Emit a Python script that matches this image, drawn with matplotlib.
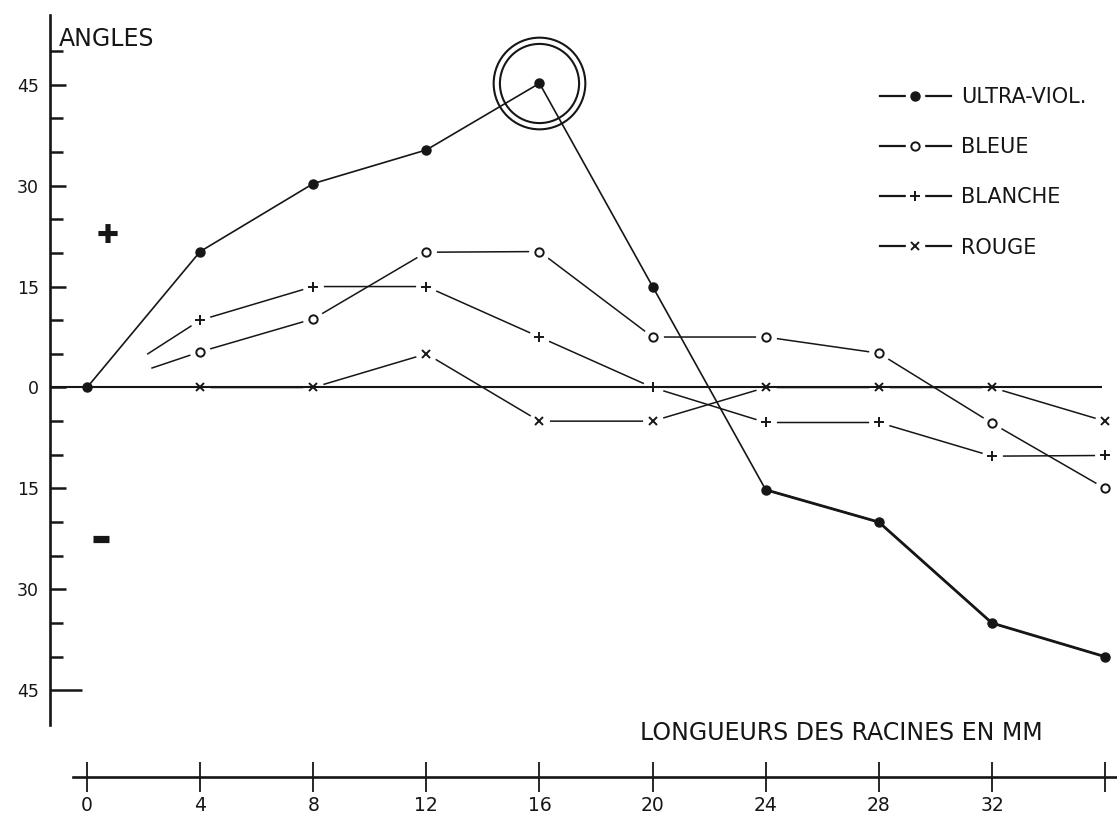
import matplotlib
matplotlib.use("Agg")
import matplotlib.pyplot as plt
from matplotlib.lines import Line2D
from matplotlib.legend_handler import HandlerTuple
import numpy as np

# ---- data ----------------------------------------------------------------
lengths = [0, 4, 8, 12, 16, 20, 24, 28, 32, 36]          # root length (mm)
tick_labels_x = ["0", "4", "8", "12", "16", "20", "24", "28", "32", ""]

ultra_viol = [0, 20.2, 30.3, 35.3, 45.2, 15, -15.2, -20, -35, -40]

bleue_x = [2.3, 4, 8, 12, 16, 20, 24, 28, 32, 36]
bleue = [2.9, 5.3, 10.2, 20.1, 20.2, 7.5, 7.5, 5.1, -5.3, -15]

blanche_x = [2.15, 4, 8, 12, 16, 20, 24, 28, 32, 36]
blanche = [5.0, 10, 15, 15, 7.5, 0, -5.2, -5.2, -10.2, -10.1]

rouge_x = [4, 8, 12, 16, 20, 24, 28, 32, 36]
rouge = [0, 0, 5, -5, -5, 0, 0, 0, -5]

y_major = [-45, -30, -15, 0, 15, 30, 45]
y_minor = [-40, -35, -25, -20, -10, -5, 5, 10, 20, 25, 35, 40, 50]

series_names = ["ULTRA-VIOL.", "BLEUE", "BLANCHE", "ROUGE"]

# ---- figure ----------------------------------------------------------------
W, H = 1117, 817
INK = "#161616"
FONT = "DejaVu Sans"
plt.rcParams["font.family"] = [FONT]

fig = plt.figure(figsize=(W / 100, H / 100), dpi=100)
ax = fig.add_axes([0, 0, 1, 1])
fig.patch.set_facecolor("white")
ax.set_facecolor("white")

# pixel calibration of the drawing
x0_px, x_scale = 87.0, 28.28
y0_px, y_scale = 387.5, 6.73
ax.set_xlim(-x0_px / x_scale, (W - x0_px) / x_scale)
ax.set_ylim(-(H - y0_px) / y_scale, y0_px / y_scale)

def px_x(p):
    return (p - x0_px) / x_scale

def px_y(p):
    return (y0_px - p) / y_scale

# ---- axes ------------------------------------------------------------------
for s in ("top", "right"):
    ax.spines[s].set_visible(False)

ax.spines["left"].set_position(("data", px_x(50)))
ax.spines["left"].set_bounds(px_y(725), px_y(15))
ax.spines["left"].set_linewidth(1.9)
ax.spines["left"].set_color(INK)

ax.spines["bottom"].set_position(("data", px_y(777)))
ax.spines["bottom"].set_bounds(px_x(73), px_x(W + 5))
ax.spines["bottom"].set_linewidth(1.9)
ax.spines["bottom"].set_color(INK)

ax.set_yticks(y_major)
ax.set_yticklabels([str(abs(v)) for v in y_major])
ax.set_yticks(y_minor, minor=True)
ax.tick_params(axis="y", which="major", direction="in", length=11.5, width=1.8,
               pad=8, labelsize=12.5, colors=INK)
ax.tick_params(axis="y", which="minor", direction="in", length=9.5, width=1.8,
               colors=INK)

ax.set_xticks(lengths)
ax.set_xticklabels(tick_labels_x)
ax.tick_params(axis="x", which="major", direction="inout", length=22, width=1.3,
               pad=3, labelsize=13.5, colors=INK)

# longer tick at the bottom of the angle scale
for tick in ax.yaxis.get_major_ticks():
    if tick.get_loc() == -45:
        tick.tick1line.set_markersize(23)

# zero reference line
ax.hlines(0, px_x(50), px_x(1102), color=INK, lw=1.5, zorder=2.6)

# ---- series ----------------------------------------------------------------
LW = 1.1
halo_kw = dict(ls="none", marker="o", ms=14, mfc="white", mec="white", zorder=2.5)

# ultra-violet
uv_line, = ax.plot(lengths, ultra_viol, "-", color=INK, lw=1.2, zorder=2)
ax.plot(lengths[6:], ultra_viol[6:], "-", color=INK, lw=2.0, zorder=2)
uv_mk, = ax.plot(lengths, ultra_viol, ls="none", marker="o", ms=6.5,
                 mfc=INK, mec=INK, zorder=3)

# blue
bl_line, = ax.plot(bleue_x, bleue, "-", color=INK, lw=LW, zorder=2)
ax.plot(bleue_x[1:], bleue[1:], **halo_kw)
bl_mk, = ax.plot(bleue_x[1:], bleue[1:], ls="none", marker="o", ms=6,
                 mfc="white", mec=INK, mew=1.4, zorder=3)

# white
wh_line, = ax.plot(blanche_x, blanche, "-", color=INK, lw=LW, zorder=2)
ax.plot(blanche_x[1:], blanche[1:], **halo_kw)
wh_mk, = ax.plot(blanche_x[1:], blanche[1:], ls="none", marker="+", ms=7.5,
                 mec=INK, mew=1.4, zorder=3)

# red
rg_line, = ax.plot(rouge_x, rouge, "-", color=INK, lw=LW, zorder=2)
ax.plot(rouge_x, rouge, **halo_kw)
rg_mk, = ax.plot(rouge_x, rouge, ls="none", marker="x", ms=5.5,
                 mec=INK, mew=1.4, zorder=3)

# double ring around the maximum of the ultra-violet curve
i_max = int(np.argmax(ultra_viol))
for ms in (66, 57):
    ax.plot(lengths[i_max], ultra_viol[i_max], ls="none", marker="o", ms=ms,
            mfc="none", mec=INK, mew=1.5, zorder=3)

# sign marks on the angle scale
ax.text(px_x(108), 22.5, "\u271A", fontsize=19, color=INK,
        ha="center", va="center", zorder=3)
ax.plot(px_x(101), -22.5, ls="none", marker="_", ms=11.5, mew=5.2,
        color=INK, zorder=3)

# ---- labels ----------------------------------------------------------------
fig.text(59 / W, 1 - 46 / H, "ANGLES", fontsize=17, color=INK,
         ha="left", va="baseline")
fig.text(640 / W, 1 - 740 / H, "LONGUEURS DES RACINES EN MM", fontsize=17,
         color=INK, ha="left", va="baseline")

# ---- legend ----------------------------------------------------------------
gap = Line2D([], [], ls="none", marker="o", ms=13, mfc="white", mec="white")
handles = [
    (Line2D([], [], color=INK, lw=1.6), gap, uv_mk),
    (Line2D([], [], color=INK, lw=1.6), gap, bl_mk),
    (Line2D([], [], color=INK, lw=1.6), gap, wh_mk),
    (Line2D([], [], color=INK, lw=1.6), gap, rg_mk),
]
leg = ax.legend(handles, series_names, loc="upper left",
                bbox_to_anchor=(880 / W, 1 - 87 / H),
                bbox_transform=fig.transFigure, frameon=False,
                handler_map={tuple: HandlerTuple(ndivide=1, pad=0)},
                numpoints=1, handlelength=3.4, handletextpad=0.5,
                labelspacing=1.45, borderpad=0, borderaxespad=0,
                prop={"family": FONT, "size": 15})
for t in leg.get_texts():
    t.set_color(INK)

fig.savefig("out.png", dpi=100, facecolor="white")
